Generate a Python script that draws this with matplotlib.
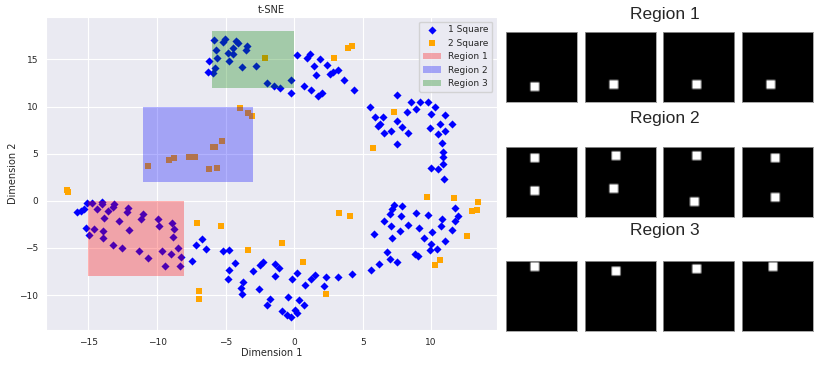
import numpy as np
import matplotlib
matplotlib.use("Agg")
import matplotlib.pyplot as plt
import seaborn as sns
from matplotlib.patches import Rectangle

# t-SNE embedding, points
sq1_x = [-5.84, -5.16, -5.01, -4.23, -4.07, -4.43, -3.41, -3.50, -5.69, -4.80, -4.43, -5.64, -6.20, -4.72,
         -3.77, -2.77, -5.77, -6.26, -5.89, -1.99, -1.46, -1.02, -0.24, -0.24, 0.24, 0.93, 1.17, 1.90, 1.46,
         2.39, 1.61, 2.63, 2.82, 3.23, 3.65, 0.73, 1.22, 1.77, 2.02, 4.40,
         7.47, 5.50, 5.91, 6.52, 6.28, 6.11, 6.57, 7.08, 7.50, 7.86, 8.30, 7.54, 8.27, 8.52, 8.91, 9.20, 9.76,
         10.29, 10.0, 11.02, 10.66, 11.55, 9.93, 11.02, 10.46, 10.78, 10.88, 10.88, 10.88, 10.0, 10.49, 10.97,
         7.25, 7.86, 7.13, 7.01, 7.81, 8.88, 9.76, 11.70, 11.92, 11.75, 10.78, 10.68, 6.59, 7.08, 8.30, 9.12,
         7.76, 10.09, 11.55, 5.86, 7.13, 9.44, 10.0, 9.93, 10.42, 11.02, 6.77, 8.83, 9.07, 7.01, 7.54, 6.20, 5.60,
         -6.74, -7.18, -6.45, -7.47, -5.16, -4.74, -4.28, -4.77, -4.80, -3.70, -3.89, -3.82, -3.01, -2.48, -2.28,
         -1.39, -1.07, -1.36, -2.53, -1.75, -1.99, -0.42, -0.90, -0.49, -0.22, 0.07, 0.24, 0.39, 0.73, -0.17,
         0.20, 0.80, 1.22, 1.53, 2.34, 2.19, 3.19, 4.21,
         -15.86, -15.57, -15.33, -15.13, -15.18, -14.94,
         -14.74, -13.99, -14.04, -14.40, -13.14, -13.19, -13.60, -13.87, -12.09, -12.17, -12.80, -11.0, -11.17,
         -12.02, -14.60, -13.96, -13.96, -13.23, -12.55, -11.29, -10.68, -9.91, -9.85, -8.93, -8.74, -8.81,
         -8.47, -9.66, -8.98, -8.23, -9.39, -8.32]
sq1_y = [17.06, 16.88, 17.16, 16.98, 16.70, 16.24, 16.45, 15.96, 16.0, 15.65, 15.54, 15.18, 14.83, 14.83,
         14.23, 14.33, 14.06, 13.70, 13.53, 12.46, 12.21, 11.94, 12.85, 11.44, 15.47, 15.18, 15.54, 15.07, 14.33,
         14.41, 13.35, 13.42, 13.70, 13.88, 12.82, 12.18, 11.76, 11.12, 11.41, 11.76,
         11.23, 9.99, 8.90, 8.90, 8.13, 7.94, 7.24, 7.42, 8.47, 7.87, 7.24, 6.01, 9.46, 10.46, 9.75, 10.52, 10.52,
         9.99, 9.22, 9.08, 8.16, 8.13, 7.70, 7.42, 7.07, 6.11, 5.19, 4.63, 3.92, 3.50, 3.36, 2.30,
         -0.39, -0.50, -0.88, -1.38, -1.59, -1.24, -1.48, -0.77, -1.66, -2.19, -1.94, -2.72, -2.19, -2.65, -2.54,
         -2.83, -3.18, -3.28, -3.07, -3.53, -3.92, -3.99, -4.56, -5.19, -5.08, -4.31, -5.40, -5.61, -5.83, -6.14,
         -6.49, -6.67, -7.31,
         -4.03, -4.66, -5.12, -6.43, -5.37, -5.26, -6.64, -7.38, -8.26, -8.58, -9.25, -9.88, -7.42, -6.81, -6.46,
         -6.71, -7.17, -7.94, -9.32, -10.41, -11.09, -10.20, -11.68, -12.08, -12.36, -11.55, -11.90, -10.49,
         -11.05, -8.29, -7.66, -8.90, -8.29, -7.84, -8.05, -9.08, -8.05, -7.73,
         -1.20, -1.03, -0.85, -0.24, -2.89, -3.60,
         -0.18, -0.07, -0.35, -0.88, -0.32, -0.67, -1.09, -1.80, -0.77, -1.20, -2.09, -1.41, -1.94,
         -3.07, -3.00, -3.21, -3.99, -4.69, -5.01, -5.30, -6.04, -1.94, -2.62, -2.36, -3.00, -3.81,
         -4.95, -5.30, -5.65, -5.96, -6.89, -6.96]

sq2_x = [-2.12, 2.94, 3.96, 4.21, 7.32, 5.74, 9.66, 11.63, 13.43, 13.01, 13.36, 12.63, 10.61, 10.29,
         -7.06, -5.33, -3.36, -0.88, 0.68, 2.34, -6.95, -6.95, 3.28, 4.09, -16.59, -16.47,
         -10.68, -9.15, -8.74, -7.64, -7.23, -5.93, -5.77, -5.23, -6.20, -5.64, -3.94, -3.38, -3.09]
sq2_y = [15.18, 15.18, 16.18, 16.45, 9.46, 5.65, 0.46, 0.29, -0.14, -1.03, -0.95, -3.78, -6.25, -6.81,
         -2.36, -2.62, -5.26, -4.52, -6.54, -9.88, -9.6, -10.4, -1.30, -1.56, 1.17, 0.99,
         3.74, 4.34, 4.59, 4.69, 4.63, 5.75, 5.75, 6.36, 3.39, 3.53, 9.88, 9.29, 9.04]

# highlighted regions
reg_names = ["Region 1", "Region 2", "Region 3"]
reg_colors = ["red", "blue", "green"]
reg_x0 = [-15, -11, -6]
reg_x1 = [-8, -3, 0]
reg_y0 = [-8, 2, 12]
reg_y1 = [0, 10, 18]

# sample images per region: (row, col) of each 4x4 white square on a 32x32 canvas
samples = [
    [[(23, 11)], [(22, 11)], [(22, 13)], [(22, 11)]],
    [[(3, 11), (18, 11)], [(2, 12), (17, 11)], [(2, 13), (23, 12)], [(3, 13), (21, 13)]],
    [[(1, 11)], [(3, 12)], [(2, 13)], [(1, 12)]],
]
grid = 32
side = 4

sns.set_style("darkgrid")
fig = plt.figure(figsize=(8.18, 3.67), dpi=100)
W, H = 818.0, 367.0

ax = fig.add_axes([46 / W, 1 - 330 / H, 451 / W, 313 / H])
ax.scatter(sq1_x, sq1_y, marker="D", s=17, c="blue", linewidths=0, label="1 Square", zorder=2)
ax.scatter(sq2_x, sq2_y, marker="s", s=19, c="orange", linewidths=0, label="2 Square", zorder=2)
for i in range(3):
    ax.add_patch(Rectangle((reg_x0[i], reg_y0[i]), reg_x1[i] - reg_x0[i], reg_y1[i] - reg_y0[i],
                           facecolor=reg_colors[i], alpha=0.3, lw=0, label=reg_names[i], zorder=3))
ax.set_xlim(-18.1, 14.8)
ax.set_ylim(-13.7, 19.5)
ax.set_xticks([-15, -10, -5, 0, 5, 10])
ax.set_yticks([-10, -5, 0, 5, 10, 15])
ax.tick_params(labelsize=6.5, pad=2)
ax.set_xlabel("Dimension 1", fontsize=7, labelpad=1)
ax.set_ylabel("Dimension 2", fontsize=7, labelpad=1)
ax.set_title("t-SNE", fontsize=7, pad=3)
ax.legend(loc="upper right", fontsize=6.5, borderpad=0.4, labelspacing=0.5, handlelength=2.0)

col_left = [506, 585, 663, 742]
row_top = [32, 147, 261]
title_base = [18.5, 122.5, 235]
for r in range(3):
    fig.text(665 / W, 1 - title_base[r] / H, reg_names[r], fontsize=12.5,
             family="Liberation Sans", ha="center", va="baseline")
    for c in range(4):
        img = np.zeros((grid, grid))
        for (row, col) in samples[r][c]:
            img[row:row + side, col:col + side] = 1
        iax = fig.add_axes([col_left[c] / W, 1 - (row_top[r] + 70) / H, 71 / W, 70 / H])
        iax.imshow(img, cmap="gray", vmin=0, vmax=1, interpolation="bilinear", aspect="auto")
        iax.set_xticks([])
        iax.set_yticks([])
        iax.grid(False)
        for sp in iax.spines.values():
            sp.set_visible(True)
            sp.set_color("#999999")
            sp.set_linewidth(0.6)

fig.savefig("out.png", dpi=100)
